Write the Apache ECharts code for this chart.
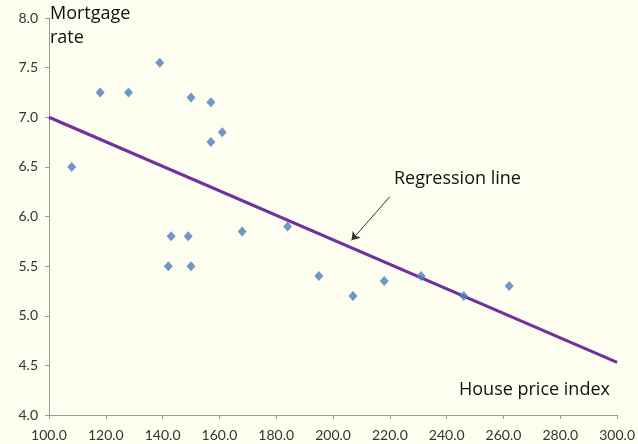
<!DOCTYPE html>
<html><head><meta charset="utf-8">
<script src="https://cdn.jsdelivr.net/npm/echarts@6/dist/echarts.min.js"></script>
<style>html,body{margin:0;padding:0;background:#fefef0}#c{width:638px;height:444px}</style>
</head><body><div id="c"></div>
<script>
const housePrice = [108, 118, 128, 139, 150, 157, 157, 161, 143, 149, 142, 150, 168, 184, 195, 207, 218, 231, 246, 262];
const mortgageRate = [6.5, 7.25, 7.25, 7.55, 7.2, 7.15, 6.75, 6.85, 5.8, 5.8, 5.5, 5.5, 5.85, 5.9, 5.4, 5.2, 5.35, 5.4, 5.2, 5.3];
const regX = [100, 300];
const regY = [7.0, 4.53];
const arrowFrom = [220, 6.2];
const arrowTo = [206.5, 5.76];
const xTicks = [100,120,140,160,180,200,220,240,260,280,300];
const yTicks = [4.0,4.5,5.0,5.5,6.0,6.5,7.0,7.5,8.0];

const chart = echarts.init(document.getElementById('c'));
const font = 'Lato, "Open Sans", sans-serif';
const tfont = '"Open Sans", sans-serif';
chart.setOption({
  backgroundColor: '#fefef0',
  animation: false,
  grid: {left: 49, right: 18, top: 18, bottom: 29},
  xAxis: {
    type: 'value', min: xTicks[0], max: xTicks[xTicks.length-1], interval: 20,
    axisLine: {show: true, lineStyle: {color: '#9a9a9a', width: 1}},
    axisTick: {show: true, length: 4, lineStyle: {color: '#9a9a9a'}},
    splitLine: {show: false},
    axisLabel: {color: '#333', fontSize: 14, fontFamily: font, margin: 13, formatter: v => v.toFixed(1)}
  },
  yAxis: {
    type: 'value', min: yTicks[0], max: yTicks[yTicks.length-1], interval: 0.5,
    axisLine: {show: true, lineStyle: {color: '#9a9a9a', width: 1}},
    axisTick: {show: true, length: 4, lineStyle: {color: '#9a9a9a'}},
    splitLine: {show: false},
    axisLabel: {color: '#333', fontSize: 14, fontFamily: font, margin: 11, formatter: v => v.toFixed(1)}
  },
  series: [
    {
      type: 'line', data: regX.map((x, i) => [x, regY[i]]), symbol: 'none',
      lineStyle: {color: '#7030a0', width: 3}, z: 2
    },
    {
      type: 'scatter', data: housePrice.map((x, i) => [x, mortgageRate[i]]),
      symbol: 'diamond', symbolSize: [9, 10],
      itemStyle: {color: '#4a7ebb'}, z: 3
    },
    {
      type: 'lines', coordinateSystem: 'cartesian2d',
      data: [{coords: [arrowFrom, arrowTo]}],
      symbol: ['none', 'arrow'], symbolSize: 8,
      lineStyle: {color: '#333', width: 1, opacity: 1}, z: 4
    }
  ],
  graphic: [
    {type: 'text', left: 50, top: 5, style: {text: 'Mortgage', font: '18px ' + tfont, fill: '#111'}},
    {type: 'text', left: 50, top: 29, style: {text: 'rate', font: '18px ' + tfont, fill: '#111'}},
    {type: 'text', left: 394, top: 170, style: {text: 'Regression line', font: '18px ' + tfont, fill: '#111'}},
    {type: 'text', left: 459, top: 381, style: {text: 'House price index', font: '18px ' + tfont, fill: '#111'}}
  ]
});
</script></body></html>
